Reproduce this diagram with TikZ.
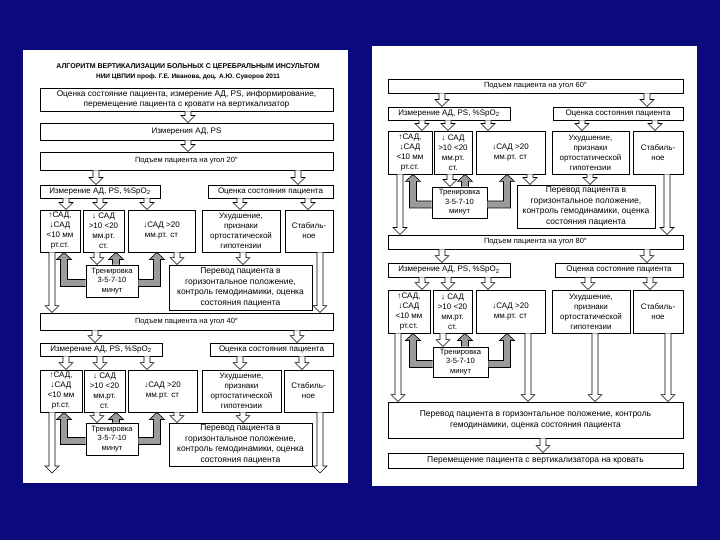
\documentclass[tikz,border=0pt]{standalone}
\usepackage{fontspec}
\setmainfont{Liberation Sans}
\usetikzlibrary{calc}
\definecolor{slidebg}{RGB}{10,10,125}
\definecolor{grayarr}{RGB}{155,155,155}
\tikzset{
 box/.style={draw, line width=0.9pt, inner sep=0pt, align=center, fill=white, font=\fontsize{8}{10}\selectfont},
 small/.style={font=\fontsize{7.5}{9}\selectfont},
 tr/.style={font=\fontsize{7.6}{9.6}\selectfont},
 mid/.style={font=\fontsize{8.5}{10.4}\selectfont},
 big/.style={font=\fontsize{8.3}{10.5}\selectfont},
 harrow/.style={draw, fill=white, line width=0.6pt, line join=miter},
 garrow/.style={draw, fill=grayarr, line width=0.6pt, line join=miter},
 page/.style={fill=white, draw=none},
 titlefont/.style={font=\bfseries\fontsize{7}{8}\selectfont},
}
% box: [opts]{name}{x1}{y1}{x2}{y2}{text}
\newcommand\bx[7][]{\node[box,minimum width={(#5-#3)*1pt},minimum height={(#6-#4)*1pt},#1] (#2) at ({(#3+#5)/2},{(#4+#6)/2}) {#7};}
% hollow arrow down: {x}{from}{to}
\newcommand\hv[3]{\draw[harrow] let \p1=(#2), \p2=(#3) in (#1pt-3pt,\y1) -- (#1pt-3pt,\y2+7pt) -- (#1pt-7pt,\y2+7pt) -- (#1pt,\y2) -- (#1pt+7pt,\y2+7pt) -- (#1pt+3pt,\y2+7pt) -- (#1pt+3pt,\y1);}
% gray arrow up: {x}{from}{to}
\newcommand\gu[3]{\draw[garrow] let \p1=(#2), \p2=(#3) in (#1pt-3.5pt,\y1) -- (#1pt-3.5pt,\y2-7pt) -- (#1pt-7.5pt,\y2-7pt) -- (#1pt,\y2) -- (#1pt+7.5pt,\y2-7pt) -- (#1pt+3.5pt,\y2-7pt) -- (#1pt+3.5pt,\y1);}
% gray elbow to the left: {x}{start}{target}
\newcommand\gl[3]{\draw[garrow] let \p1=(#2), \p2=(#3) in (\x1,\y1-3.5pt) -- (#1pt-3.5pt,\y1-3.5pt) -- (#1pt-3.5pt,\y2-7pt) -- (#1pt-7.5pt,\y2-7pt) -- (#1pt,\y2) -- (#1pt+7.5pt,\y2-7pt) -- (#1pt+3.5pt,\y2-7pt) -- (#1pt+3.5pt,\y1+3.5pt) -- (\x1,\y1+3.5pt);}
% gray elbow to the right
\newcommand\gr[3]{\draw[garrow] let \p1=(#2), \p2=(#3) in (\x1,\y1-3.5pt) -- (#1pt+3.5pt,\y1-3.5pt) -- (#1pt+3.5pt,\y2-7pt) -- (#1pt+7.5pt,\y2-7pt) -- (#1pt,\y2) -- (#1pt-7.5pt,\y2-7pt) -- (#1pt-3.5pt,\y2-7pt) -- (#1pt-3.5pt,\y1+3.5pt) -- (\x1,\y1+3.5pt);}
% training loop: {t}{a}{b}{c}{xl}{xup}{xr}{xdown}
\newcommand\loopset[8]{%
 \hv{#8}{#8,0 |- #3.south}{#8,0 |- #1.north}
 \gu{#6}{#6,0 |- #1.north}{#6,0 |- #3.south}
 \gl{#5}{$(#1.west)+(0,2)$}{#5,0 |- #2.south}
 \gr{#7}{$(#1.east)+(0,2)$}{#7,0 |- #4.south}
}
\begin{document}
\begin{tikzpicture}[x=1pt,y=-1pt]
\useasboundingbox (0,0) rectangle (720,540);
\fill[slidebg] (0,0) rectangle (720,540);
\fill[page] (23,50) rectangle (348,483);
\fill[page] (372,46) rectangle (697,486);

% ---------- LEFT PAGE ----------
\node[titlefont] (title1) at (188,67) {АЛГОРИТМ ВЕРТИКАЛИЗАЦИИ БОЛЬНЫХ С ЦЕРЕБРАЛЬНЫМ ИНСУЛЬТОМ};
\node[titlefont,font=\bfseries\fontsize{6.5}{8}\selectfont] (title2) at (188,77) {НИИ ЦВПИИ проф. Г.Е. Иванова, доц. А.Ю. Суворов 2011};

\bx[big]{b1}{40}{88}{333}{111}{Оценка состояние пациента, измерение АД, PS, информирование,\\перемещение пациента с кровати на вертикализатор}
\bx{b2}{40}{123}{333}{140}{Измерения АД, PS}
\bx[small]{b3}{40}{152}{333}{170}{Подъем пациента на угол 20°}
\hv{188}{188,0 |- b1.south}{188,0 |- b2.north}
\hv{188}{188,0 |- b2.south}{188,0 |- b3.north}

% block 20
\bx{m1}{40}{185}{160}{198}{Измерение АД, PS, \%SpO\textsubscript{2}}
\bx{o1}{208}{185}{333}{198}{Оценка состояния пациента}
\bx{a1}{40}{210}{80}{252}{↑САД,\\↓САД\\<10 мм\\рт.ст.}
\bx{bb1}{83}{210}{124}{252}{↓ САД\\>10 <20\\мм.рт.\\ст.}
\bx{c1}{128}{210}{195}{252}{↓САД >20\\мм.рт. ст}
\bx{d1}{202}{210}{280}{252}{Ухудшение,\\признаки\\ортостатической\\гипотензии}
\bx{e1}{285}{210}{333}{252}{Стабиль-\\ное}
\bx[tr]{t1}{86}{265}{138}{297}{Тренировка\\3-5-7-10\\минут}
\bx[mid]{p1}{169}{265}{312}{310}{Перевод пациента в\\горизонтальное положение,\\контроль гемодинамики, оценка\\состояния пациента}
\hv{96}{96,0 |- b3.south}{96,0 |- m1.north}
\hv{298}{298,0 |- b3.south}{298,0 |- o1.north}
\hv{66}{66,0 |- m1.south}{66,0 |- a1.north}
\hv{100}{100,0 |- m1.south}{100,0 |- bb1.north}
\hv{147}{147,0 |- m1.south}{147,0 |- c1.north}
\hv{240}{240,0 |- o1.south}{240,0 |- d1.north}
\hv{308}{308,0 |- o1.south}{308,0 |- e1.north}
\loopset{t1}{a1}{bb1}{c1}{64}{116}{157}{97}
\hv{177}{177,0 |- c1.south}{177,0 |- p1.north}
\hv{243}{243,0 |- d1.south}{243,0 |- p1.north}

% block 40
\bx[small]{b40}{40}{313}{333}{330}{Подъем пациента на угол 40°}
\hv{52}{52,0 |- a1.south}{52,0 |- b40.north}
\hv{320}{320,0 |- e1.south}{320,0 |- b40.north}
\bx{m2}{40}{343}{162}{356}{Измерение АД, PS, \%SpO\textsubscript{2}}
\bx{o2}{210}{343}{333}{356}{Оценка состояния пациента}
\bx{a2}{40}{370}{82}{412}{↑САД,\\↓САД\\<10 мм\\рт.ст.}
\bx{bb2}{84}{370}{125}{412}{↓ САД\\>10 <20\\мм.рт.\\ст.}
\bx{c2}{128}{370}{197}{412}{↓САД >20\\мм.рт. ст}
\bx{d2}{202}{370}{281}{412}{Ухудшение,\\признаки\\ортостатической\\гипотензии}
\bx{e2}{284}{370}{333}{412}{Стабиль-\\ное}
\bx[tr]{t2}{86}{423}{138}{455}{Тренировка\\3-5-7-10\\минут}
\bx[mid]{p2}{169}{423}{312}{466}{Перевод пациента в\\горизонтальное положение,\\контроль гемодинамики, оценка\\состояния пациента}
\hv{95}{95,0 |- b40.south}{95,0 |- m2.north}
\hv{297}{297,0 |- b40.south}{297,0 |- o2.north}
\hv{66}{66,0 |- m2.south}{66,0 |- a2.north}
\hv{100}{100,0 |- m2.south}{100,0 |- bb2.north}
\hv{147}{147,0 |- m2.south}{147,0 |- c2.north}
\hv{240}{240,0 |- o2.south}{240,0 |- d2.north}
\hv{302}{302,0 |- o2.south}{302,0 |- e2.north}
\loopset{t2}{a2}{bb2}{c2}{64}{116}{157}{97}
\hv{177}{177,0 |- c2.south}{177,0 |- p2.north}
\hv{243}{243,0 |- d2.south}{243,0 |- p2.north}
\coordinate (endL) at (52,473);
\coordinate (endR) at (320,473);
\hv{52}{52,0 |- a2.south}{endL}
\hv{320}{320,0 |- e2.south}{endR}

% ---------- RIGHT PAGE ----------
\bx[small]{r60}{388}{79}{683}{93}{Подъем пациента на угол 60°}
\bx{m3}{388}{107}{510}{120}{Измерение АД, PS, \%SpO\textsubscript{2}}
\bx{o3}{553}{107}{683}{120}{Оценка состояния пациента}
\bx{a3}{388}{131}{432}{174}{↑САД,\\↓САД\\<10 мм\\рт.ст.}
\bx{bb3}{434}{131}{472}{174}{↓ САД\\>10 <20\\мм.рт.\\ст.}
\bx{c3}{476}{131}{545}{174}{↓САД >20\\мм.рт. ст}
\bx{d3}{552}{131}{629}{174}{Ухудшение,\\признаки\\ортостатической\\гипотензии}
\bx{e3}{633}{131}{683}{174}{Стабиль-\\ное}
\bx[tr]{t3}{432}{187}{487}{218}{Тренировка\\3-5-7-10\\минут}
\bx[mid]{p3}{517}{185}{655}{228}{Перевод пациента в\\горизонтальное положение,\\контроль гемодинамики, оценка\\состояния пациента}
\hv{442}{442,0 |- r60.south}{442,0 |- m3.north}
\hv{647}{647,0 |- r60.south}{647,0 |- o3.north}
\hv{422}{422,0 |- m3.south}{422,0 |- a3.north}
\hv{448}{448,0 |- m3.south}{448,0 |- bb3.north}
\hv{488}{488,0 |- m3.south}{488,0 |- c3.north}
\hv{582}{582,0 |- o3.south}{582,0 |- d3.north}
\hv{655}{655,0 |- o3.south}{655,0 |- e3.north}
\loopset{t3}{a3}{bb3}{c3}{413}{465}{507}{450}
\hv{530}{530,0 |- c3.south}{530,0 |- p3.north}
\hv{590}{590,0 |- d3.south}{590,0 |- p3.north}

\bx[small]{r80}{388}{235}{683}{249}{Подъем пациента на угол 80°}
\hv{400}{400,0 |- a3.south}{400,0 |- r80.north}
\hv{667}{667,0 |- e3.south}{667,0 |- r80.north}
\bx{m4}{388}{263}{510}{277}{Измерение АД, PS, \%SpO\textsubscript{2}}
\bx{o4}{555}{263}{683}{277}{Оценка состояние пациента}
\bx{a4}{388}{290}{430}{333}{↑САД,\\↓САД\\<10 мм\\рт.ст.}
\bx{bb4}{433}{290}{472}{333}{↓ САД\\>10 <20\\мм.рт.\\ст.}
\bx{c4}{476}{290}{545}{333}{↓САД >20\\мм.рт. ст}
\bx{d4}{552}{290}{630}{333}{Ухудшение,\\признаки\\ортостатической\\гипотензии}
\bx{e4}{633}{290}{683}{333}{Стабиль-\\ное}
\bx[tr]{t4}{433}{347}{488}{377}{Тренировка\\3-5-7-10\\минут}
\hv{442}{442,0 |- r80.south}{442,0 |- m4.north}
\hv{647}{647,0 |- r80.south}{647,0 |- o4.north}
\hv{422}{422,0 |- m4.south}{422,0 |- a4.north}
\hv{448}{448,0 |- m4.south}{448,0 |- bb4.north}
\hv{488}{488,0 |- m4.south}{488,0 |- c4.north}
\hv{588}{588,0 |- o4.south}{588,0 |- d4.north}
\hv{650}{650,0 |- o4.south}{650,0 |- e4.north}
\loopset{t4}{a4}{bb4}{c4}{413}{465}{507}{443}

\bx[mid]{pf}{388}{402}{683}{438}{Перевод пациента в горизонтальное положение, контроль\\гемодинамики, оценка состояния пациента}
\bx[mid]{last}{388}{453}{683}{468}{Перемещение пациента с вертикализатора на кровать}
\hv{398}{398,0 |- a4.south}{398,0 |- pf.north}
\hv{528}{528,0 |- c4.south}{528,0 |- pf.north}
\hv{595}{595,0 |- d4.south}{595,0 |- pf.north}
\hv{668}{668,0 |- e4.south}{668,0 |- pf.north}
\hv{543}{543,0 |- pf.south}{543,0 |- last.north}
\end{tikzpicture}
\end{document}
